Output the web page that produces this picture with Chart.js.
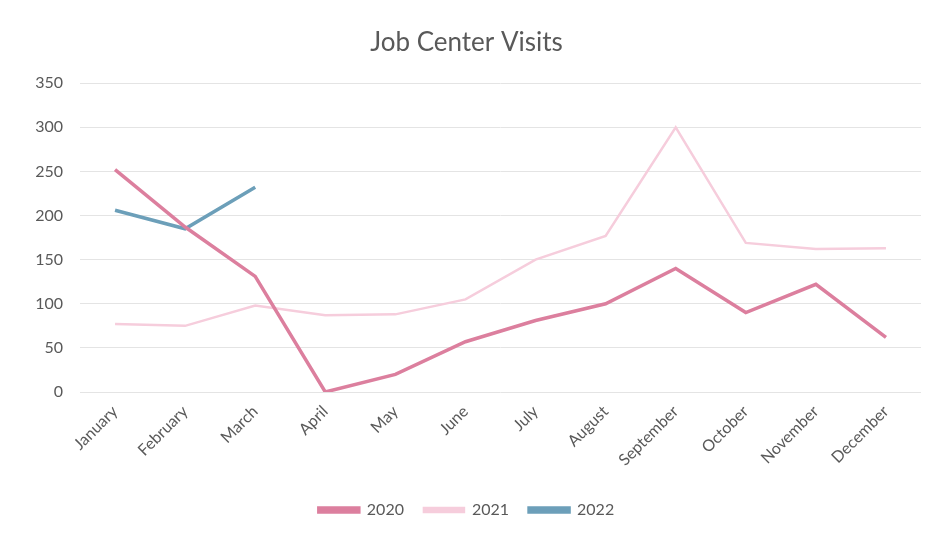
<!DOCTYPE html>
<html>
<head>
<meta charset="utf-8">
<script src="https://cdn.jsdelivr.net/npm/chart.js@4/dist/chart.umd.min.js"></script>
<style>
  html, body { margin: 0; padding: 0; background: #ffffff; }
  #wrap { width: 946px; height: 538px; position: relative; }
</style>
</head>
<body>
<div id="wrap"><canvas id="c" width="946" height="538"></canvas></div>
<script>
const months = ["January","February","March","April","May","June","July","August","September","October","November","December"];
const visits2020 = [252, 187, 131, 0, 20, 57, 81, 100, 140, 90, 122, 62];
const visits2021 = [77, 75, 98, 87, 88, 105, 150, 177, 300, 169, 162, 163];
const visits2022 = [206, 185, 232, null, null, null, null, null, null, null, null, null];
const yTicks = [0, 50, 100, 150, 200, 250, 300, 350];

const FONT = "Lato, 'Open Sans', sans-serif";
const TXT = '#595959';

new Chart(document.getElementById('c'), {
  type: 'line',
  data: {
    labels: months,
    datasets: [
      { label: '2020', data: visits2020, borderColor: '#dc7f9e', backgroundColor: '#dc7f9e', borderWidth: 3.5, pointRadius: 0, tension: 0 },
      { label: '2021', data: visits2021, borderColor: '#f6cddc', backgroundColor: '#f6cddc', borderWidth: 2.5, pointRadius: 0, tension: 0 },
      { label: '2022', data: visits2022, borderColor: '#6c9fb9', backgroundColor: '#6c9fb9', borderWidth: 3.5, pointRadius: 0, tension: 0, spanGaps: false }
    ]
  },
  options: {
    responsive: false,
    animation: false,
    layout: { padding: { left: 12, right: 25, top: 0, bottom: 10 } },
    plugins: {
      title: {
        display: true,
        text: 'Job Center Visits',
        color: TXT,
        font: { family: FONT, size: 26, weight: 'normal' },
        padding: { top: 27, bottom: 25 }
      },
      legend: {
        position: 'bottom',
        labels: {
          color: TXT,
          font: { family: FONT, size: 16 },
          boxWidth: 40,
          boxHeight: 4,
          padding: 20
        }
      },
      tooltip: { enabled: false }
    },
    scales: {
      x: {
        offset: true,
        grid: { display: false, drawTicks: false },
        border: { display: false },
        afterFit: (axis) => { axis.height = 90; },
        ticks: {
          color: TXT,
          font: { family: FONT, size: 16 },
          minRotation: 45, maxRotation: 45,
          padding: 10
        }
      },
      y: {
        min: 0, max: 350,
        afterBuildTicks: (axis) => { axis.ticks = yTicks.map(v => ({ value: v })); },
        afterFit: (axis) => { axis.width = 68; },
        grid: { color: '#e4e4e4', lineWidth: 1, drawTicks: false },
        border: { display: false },
        ticks: {
          color: TXT,
          font: { family: FONT, size: 16 },
          padding: 17
        }
      }
    }
  }
});
</script>
</body>
</html>
